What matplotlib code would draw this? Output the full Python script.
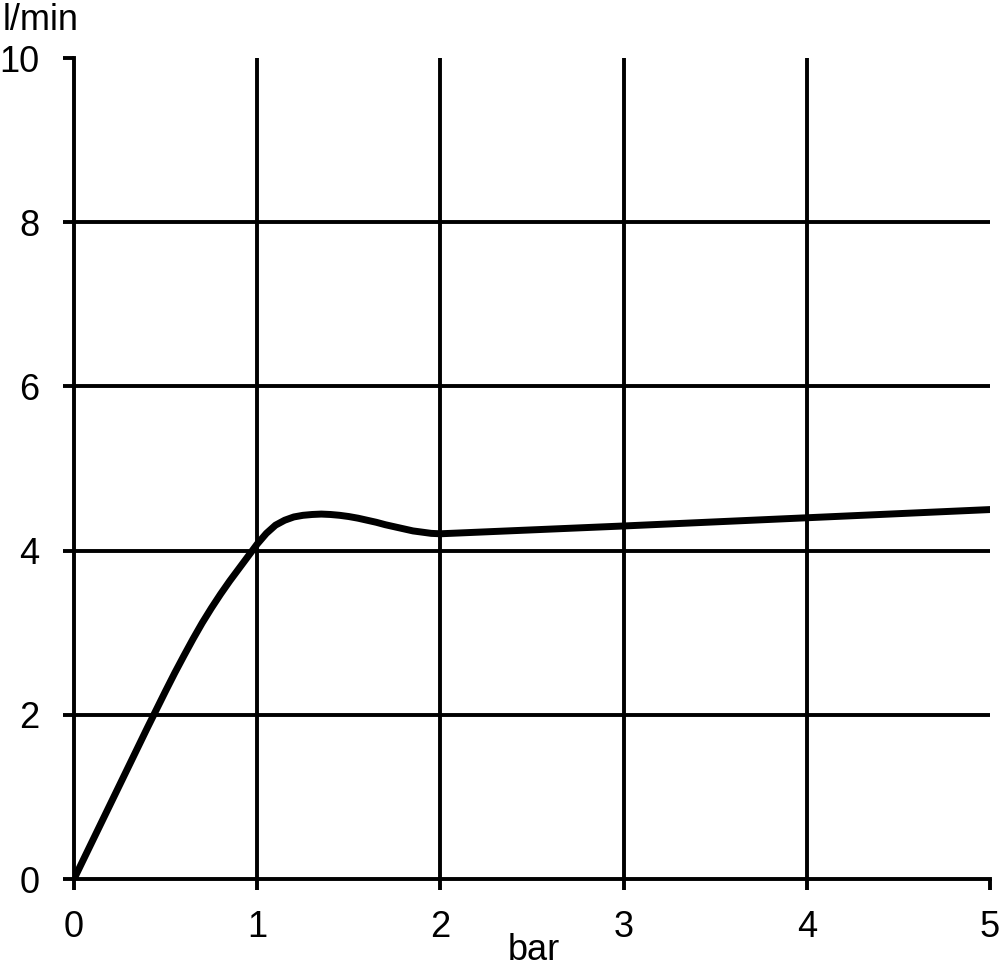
import matplotlib
matplotlib.use("Agg")
import matplotlib.pyplot as plt

plt.rcParams['font.family'] = ['Liberation Sans', 'DejaVu Sans']

pressure_bar = [0, 0.1, 0.2, 0.3, 0.4, 0.5, 0.55, 0.6, 0.65, 0.7, 0.75, 0.8, 0.85,
                0.9, 0.95, 1.0, 1.05, 1.1, 1.15, 1.2, 1.25, 1.3, 1.35, 1.4, 1.45,
                1.5, 1.55, 1.6, 1.65, 1.7, 1.75, 1.8, 1.85, 1.9, 1.95, 2.0,
                3.0, 4.0, 5.0]
flow_lpm = [0, 0.46, 0.92, 1.38, 1.84, 2.29, 2.51, 2.72, 2.925, 3.12, 3.30, 3.47, 3.63,
            3.78, 3.93, 4.08, 4.21, 4.31, 4.37, 4.41, 4.43, 4.44, 4.445, 4.44, 4.43,
            4.415, 4.395, 4.37, 4.345, 4.315, 4.29, 4.265, 4.24, 4.225, 4.21, 4.205,
            4.30, 4.40, 4.50]

x_ticks = [0, 1, 2, 3, 4, 5]
y_ticks = [0, 2, 4, 6, 8, 10]
x_grid = [1, 2, 3, 4]
y_grid = [2, 4, 6, 8]

fig = plt.figure(figsize=(10, 9.67), dpi=100)
ax = fig.add_axes([0.074, 0.091, 0.916, 0.849])

lw = 2.8
for gx in x_grid:
    ax.axvline(gx, color='black', lw=lw, zorder=1)
for gy in y_grid:
    ax.axhline(gy, color='black', lw=lw, zorder=1)

ax.plot(pressure_bar, flow_lpm, color='black', lw=5, solid_capstyle='round',
        solid_joinstyle='round', zorder=3)

ax.set_xlim(0, 5)
ax.set_ylim(0, 10)
ax.set_xticks(x_ticks)
ax.set_yticks(y_ticks)
ax.set_xticklabels([str(v) for v in x_ticks])
ax.set_yticklabels([str(v) for v in y_ticks])
for s in ['top', 'right']:
    ax.spines[s].set_visible(False)
for s in ['left', 'bottom']:
    ax.spines[s].set_linewidth(lw)
ax.tick_params(direction='out', length=8, width=lw, labelsize=26)
ax.tick_params(axis='y', pad=17)
ax.tick_params(axis='x', pad=14)

fig.text(0.003, 0.969, 'l/min', fontsize=26, ha='left', va='baseline')
fig.text(0.508, 0.007, 'bar', fontsize=26, ha='left', va='baseline')

fig.savefig('out.png', dpi=100)
